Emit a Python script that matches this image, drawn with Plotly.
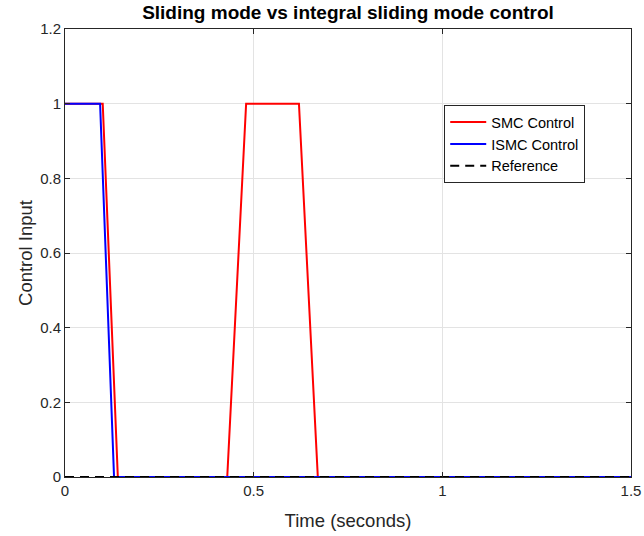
import plotly.graph_objects as go

smc_t = [0, 0.10, 0.14, 0.43, 0.48, 0.62, 0.67, 1.5]
smc_u = [1, 1, 0, 0, 1, 1, 0, 0]
ismc_t = [0, 0.093, 0.13, 1.5]
ismc_u = [1, 1, 0, 0]
ref_t = [0, 1.5]
ref_u = [0, 0]

fig = go.Figure()
fig.add_trace(go.Scatter(x=smc_t, y=smc_u, mode="lines", name="SMC Control",
                         line=dict(color="#ff0000", width=2)))
fig.add_trace(go.Scatter(x=ismc_t, y=ismc_u, mode="lines", name="ISMC Control",
                         line=dict(color="#0000ff", width=2)))
fig.add_trace(go.Scatter(x=ref_t, y=ref_u, mode="lines", name="Reference",
                         line=dict(color="#000000", width=2, dash="9px,6px")))

axis_common = dict(showgrid=True, gridcolor="#e3e3e3", gridwidth=1,
                   showline=True, linecolor="#262626", linewidth=1, mirror="allticks",
                   ticks="inside", ticklen=5, tickcolor="#262626", zeroline=False,
                   automargin=False,
                   tickfont=dict(family="Liberation Sans, Arial", size=15, color="#262626"))

fig.update_layout(
    width=644, height=536,
    margin=dict(l=65, r=13, t=29, b=59),
    plot_bgcolor="white", paper_bgcolor="white",
    font=dict(family="Liberation Sans, Arial", color="#262626"),
    title=dict(text="<b>Sliding mode vs integral sliding mode control</b>",
               x=0.5, xref="paper", xanchor="center", y=1 - 12 / 536, yanchor="middle",
               font=dict(size=19, color="#000000")),
    xaxis=dict(range=[0, 1.5], tickvals=[0, 0.5, 1, 1.5], ticktext=["0", "0.5", "1", "1.5"],
               title=dict(text="Time (seconds)", font=dict(size=18.5, color="#262626"), standoff=16),
               **axis_common),
    yaxis=dict(range=[0, 1.2], tickvals=[0, 0.2, 0.4, 0.6, 0.8, 1.0, 1.2],
               ticktext=["0", "0.2", "0.4", "0.6", "0.8", "1", "1.2"],
               title=dict(text="Control Input", font=dict(size=18.5, color="#262626"), standoff=2),
               **axis_common),
    legend=dict(x=0.67, y=0.83, xanchor="left", yanchor="top",
                bgcolor="white", bordercolor="#262626", borderwidth=1,
                font=dict(size=14.5, color="#000000"), tracegroupgap=0, itemwidth=36),
    showlegend=True,
)

fig.write_html("out.html")
